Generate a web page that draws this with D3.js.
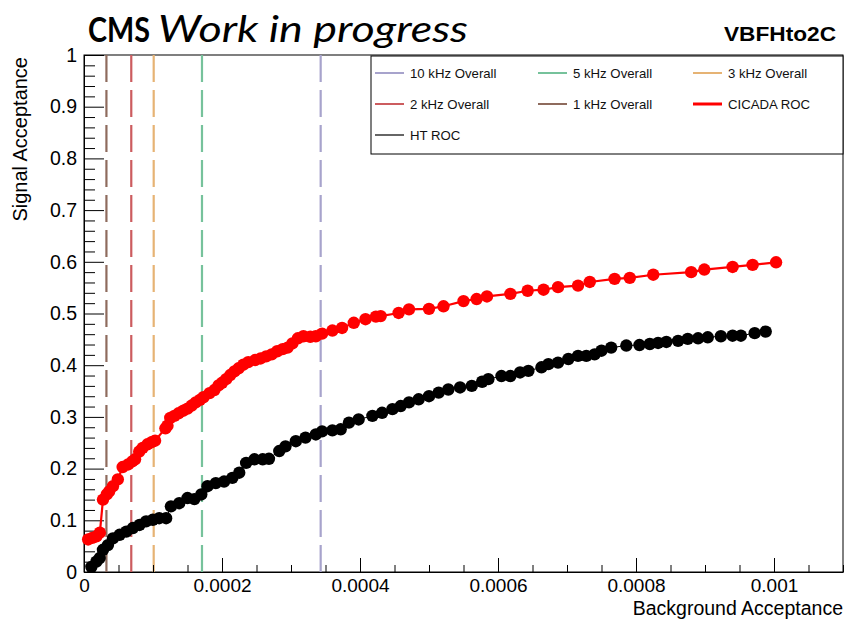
<!DOCTYPE html>
<html>
<head>
<meta charset="utf-8">
<script src="https://cdn.jsdelivr.net/npm/d3@7/dist/d3.min.js"></script>
<style>
  html, body { margin: 0; padding: 0; background: #fff; }
  svg { display: block; }
  .root-text { font-family: "Liberation Sans", Arial, Helvetica, sans-serif; }
</style>
</head>
<body>
<svg id="chart" width="846" height="620"></svg>
<script>
// ---- data -------------------------------------------------------------
// CICADA ROC: [background acceptance, signal acceptance]
const cicadaBkg = [0.000006,0.000012,0.000018,0.000023,0.0000275,0.000033,0.0000365,0.000042,0.000049,0.000056,0.000064,0.000070,0.000074,0.000080,0.000085,0.000092,0.000098,0.000103,0.000118,0.000121,0.000125,0.000131,0.000137,0.000144,0.000150,0.000156,0.000162,0.000168,0.000173,0.000182,0.000189,0.000195,0.000200,0.000206,0.000212,0.000218,0.000224,0.000231,0.000238,0.000248,0.000256,0.000264,0.000272,0.000280,0.000288,0.000295,0.000302,0.000310,0.000318,0.000328,0.000336,0.000345,0.000360,0.000374,0.000391,0.000408,0.000423,0.000430,0.000456,0.000471,0.000500,0.000521,0.000550,0.000569,0.000584,0.000618,0.000643,0.000666,0.000687,0.000716,0.000733,0.000769,0.000791,0.000825,0.000880,0.000899,0.000940,0.000969,0.001003];
const cicadaSig = [0.063,0.066,0.069,0.076,0.140,0.150,0.156,0.166,0.179,0.203,0.208,0.214,0.218,0.233,0.240,0.247,0.251,0.254,0.278,0.283,0.298,0.302,0.307,0.312,0.316,0.322,0.328,0.333,0.338,0.346,0.352,0.361,0.366,0.373,0.381,0.388,0.394,0.401,0.406,0.410,0.413,0.417,0.421,0.427,0.431,0.434,0.442,0.452,0.456,0.455,0.456,0.461,0.467,0.472,0.482,0.489,0.494,0.495,0.501,0.508,0.509,0.514,0.524,0.528,0.533,0.538,0.544,0.546,0.551,0.554,0.561,0.567,0.569,0.575,0.580,0.585,0.590,0.594,0.599];

// HT ROC
const htBkg = [0.0000107,0.0000179,0.0000227,0.0000275,0.0000347,0.0000419,0.0000516,0.0000613,0.0000708,0.0000805,0.000090,0.0000997,0.000109,0.000119,0.000126,0.000138,0.000150,0.000160,0.000170,0.000179,0.000191,0.000203,0.000215,0.000225,0.000235,0.000247,0.000259,0.000268,0.000283,0.000292,0.000307,0.000321,0.000336,0.000345,0.000360,0.000372,0.000384,0.000398,0.000418,0.000432,0.000447,0.000459,0.000471,0.000485,0.000500,0.000514,0.000528,0.000545,0.000562,0.000577,0.000586,0.000605,0.000618,0.000632,0.000644,0.000663,0.000673,0.000687,0.000702,0.000716,0.000728,0.000740,0.000750,0.000764,0.000786,0.000805,0.000820,0.000832,0.000844,0.000861,0.000875,0.000890,0.000904,0.000923,0.000940,0.000952,0.000972,0.000988];
const htSig = [0.010,0.020,0.027,0.043,0.052,0.065,0.072,0.078,0.085,0.091,0.098,0.101,0.104,0.104,0.127,0.133,0.143,0.141,0.150,0.166,0.172,0.175,0.182,0.192,0.211,0.218,0.218,0.219,0.234,0.243,0.253,0.260,0.266,0.272,0.274,0.276,0.289,0.295,0.302,0.308,0.315,0.321,0.328,0.334,0.340,0.347,0.353,0.357,0.360,0.368,0.373,0.379,0.379,0.386,0.389,0.396,0.402,0.405,0.412,0.418,0.418,0.421,0.428,0.434,0.438,0.439,0.441,0.443,0.445,0.447,0.451,0.452,0.454,0.456,0.457,0.457,0.462,0.465];

// Overall rate working points (background acceptance)
const rateLabels = ["10 kHz Overall", "5 kHz Overall", "3 kHz Overall", "2 kHz Overall", "1 kHz Overall"];
const rateBkg = [0.000343, 0.000171, 0.000101, 0.0000685, 0.0000325];
const rateColors = ["#a7a3cc", "#76c29b", "#e6b374", "#cc5c5f", "#8e6b5d"];

// Axis ticks
const xMajorTicks = [0, 0.0002, 0.0004, 0.0006, 0.0008, 0.001];
const xTickLabels = ["0", "0.0002", "0.0004", "0.0006", "0.0008", "0.001"];
const yMajorTicks = [0, 0.1, 0.2, 0.3, 0.4, 0.5, 0.6, 0.7, 0.8, 0.9, 1];
const yTickLabels = ["0", "0.1", "0.2", "0.3", "0.4", "0.5", "0.6", "0.7", "0.8", "0.9", "1"];

// ---- layout -----------------------------------------------------------
const svg = d3.select("#chart");
const frame = { left: 84, right: 843, top: 55, bottom: 572 };

const x = d3.scaleLinear().domain([0, 0.0011]).range([frame.left, frame.right]);
const y = d3.scaleLinear().domain([0, 1]).range([frame.bottom, frame.top]);

// frame
svg.append("rect")
  .attr("x", frame.left).attr("y", frame.top)
  .attr("width", frame.right - frame.left).attr("height", frame.bottom - frame.top)
  .attr("fill", "none").attr("stroke", "#000").attr("stroke-width", 1);

// ---- vertical working-point lines ------------------------------------
const rateData = rateLabels.map((l, i) => ({ label: l, bkg: rateBkg[i], color: rateColors[i] }));
svg.append("g").selectAll("line").data(rateData).join("line")
  .attr("x1", d => x(d.bkg)).attr("x2", d => x(d.bkg))
  .attr("y1", y(1)).attr("y2", y(0))
  .attr("stroke", d => d.color)
  .attr("stroke-width", 2.2)
  .attr("stroke-dasharray", "27,8");

// ---- axes -------------------------------------------------------------
const xMinor = d3.range(0, 0.00110001, 0.00005).filter(v => Math.abs(v / 0.0002 - Math.round(v / 0.0002)) > 1e-6);
const yMinor = d3.range(0, 1.0001, 0.02).filter(v => Math.abs(v * 10 - Math.round(v * 10)) > 1e-6);

const xAxis = svg.append("g").attr("class", "root-text")
  .attr("transform", `translate(0,${frame.bottom})`)
  .call(d3.axisBottom(x).tickValues(xMajorTicks).tickSize(-14).tickSizeOuter(0)
        .tickPadding(7).tickFormat((d, i) => xTickLabels[i]));
svg.append("g").attr("transform", `translate(0,${frame.bottom})`)
  .call(d3.axisBottom(x).tickValues(xMinor).tickSize(-7).tickSizeOuter(0).tickFormat(""))
  .call(g => g.select(".domain").remove());

const yAxis = svg.append("g").attr("class", "root-text")
  .attr("transform", `translate(${frame.left},0)`)
  .call(d3.axisLeft(y).tickValues(yMajorTicks).tickSize(-20).tickSizeOuter(0)
        .tickPadding(7).tickFormat((d, i) => yTickLabels[i]));
svg.append("g").attr("transform", `translate(${frame.left},0)`)
  .call(d3.axisLeft(y).tickValues(yMinor).tickSize(-11).tickSizeOuter(0).tickFormat(""))
  .call(g => g.select(".domain").remove());

svg.selectAll(".tick line").attr("stroke", "#000");
svg.selectAll(".domain").attr("stroke", "#000");
xAxis.selectAll("text").attr("font-size", 19).attr("fill", "#000")
  .attr("font-family", "Liberation Sans, Arial, sans-serif");
yAxis.selectAll("text").attr("font-size", 19.5).attr("fill", "#000")
  .attr("font-family", "Liberation Sans, Arial, sans-serif");

// axis titles
svg.append("text").attr("class", "root-text")
  .attr("x", frame.right).attr("y", 615)
  .attr("text-anchor", "end").attr("font-size", 19.5)
  .text("Background Acceptance");
svg.append("text").attr("class", "root-text")
  .attr("transform", `translate(27,${frame.top + 2}) rotate(-90)`)
  .attr("text-anchor", "end").attr("font-size", 20)
  .text("Signal Acceptance");

// ---- ROC curves -------------------------------------------------------
const cicada = cicadaBkg.map((b, i) => [b, cicadaSig[i]]);
const ht = htBkg.map((b, i) => [b, htSig[i]]);
const line = d3.line().x(d => x(d[0])).y(d => y(d[1]));

svg.append("path").datum(ht).attr("d", line)
  .attr("fill", "none").attr("stroke", "#000").attr("stroke-width", 1);
svg.append("g").selectAll("circle").data(ht).join("circle")
  .attr("cx", d => x(d[0])).attr("cy", d => y(d[1])).attr("r", 6.2)
  .attr("fill", "#000");

svg.append("path").datum(cicada).attr("d", line)
  .attr("fill", "none").attr("stroke", "#ff0000").attr("stroke-width", 2.2);
svg.append("g").selectAll("circle").data(cicada).join("circle")
  .attr("cx", d => x(d[0])).attr("cy", d => y(d[1])).attr("r", 6.2)
  .attr("fill", "#ff0000");

// ---- legend -----------------------------------------------------------
const legend = svg.append("g").attr("class", "root-text");
legend.append("rect")
  .attr("x", 371).attr("y", 56).attr("width", frame.right - 371).attr("height", 98)
  .attr("fill", "#fff").attr("stroke", "#000").attr("stroke-width", 1);

const legendEntries = [
  { label: rateLabels[0], color: rateColors[0], w: 2 },
  { label: rateLabels[1], color: rateColors[1], w: 2 },
  { label: rateLabels[2], color: rateColors[2], w: 2 },
  { label: rateLabels[3], color: rateColors[3], w: 2 },
  { label: rateLabels[4], color: rateColors[4], w: 2 },
  { label: "CICADA ROC", color: "#ff0000", w: 3 },
  { label: "HT ROC", color: "#000", w: 1.2 }
];
const colX = [375, 538, 693];
const rowY = [73, 104, 135];
const le = legend.selectAll("g.entry").data(legendEntries).join("g")
  .attr("class", "entry")
  .attr("transform", (d, i) => `translate(${colX[i % 3]},${rowY[Math.floor(i / 3)]})`);
le.append("line").attr("x1", 0).attr("x2", 29).attr("y1", 0).attr("y2", 0)
  .attr("stroke", d => d.color).attr("stroke-width", d => d.w);
le.append("text").attr("x", 35).attr("y", 0).attr("dy", "0.35em")
  .attr("font-size", 13.2).attr("fill", "#111").text(d => d.label);

// ---- header -----------------------------------------------------------
svg.append("text")
  .attr("x", 88).attr("y", 42)
  .attr("font-family", "Lato, 'Open Sans', sans-serif")
  .attr("font-size", 35).attr("font-weight", "bold")
  .attr("textLength", 62).attr("lengthAdjust", "spacingAndGlyphs")
  .text("CMS");
svg.append("text")
  .attr("x", 158).attr("y", 42)
  .attr("font-family", "Lato, 'Open Sans', sans-serif")
  .attr("font-size", 37).attr("font-style", "italic")
  .attr("textLength", 310).attr("lengthAdjust", "spacingAndGlyphs")
  .text("Work in progress");
svg.append("text").attr("class", "root-text")
  .attr("x", 836).attr("y", 41).attr("text-anchor", "end")
  .attr("font-size", 20).attr("font-weight", "bold")
  .attr("textLength", 112).attr("lengthAdjust", "spacingAndGlyphs")
  .text("VBFHto2C");
</script>
</body>
</html>
